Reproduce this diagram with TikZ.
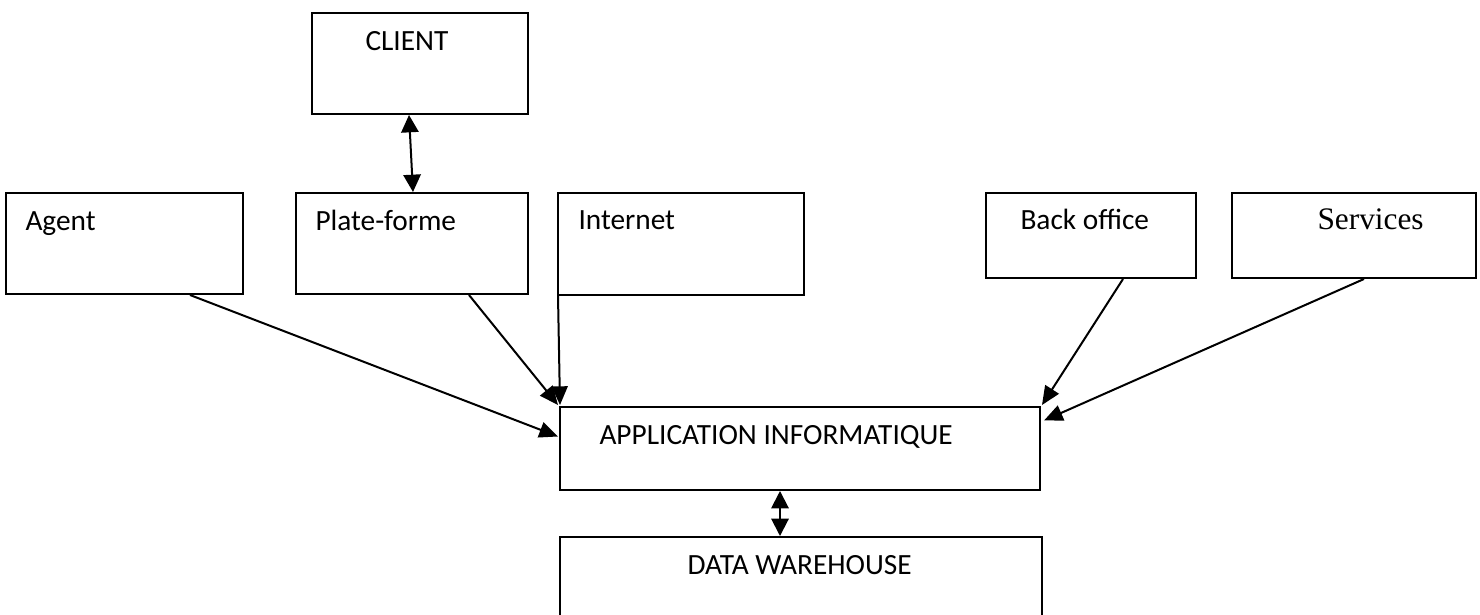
\documentclass[tikz,border=0pt]{standalone}
\usepackage{fontspec}
\setmainfont{Carlito}
\newfontfamily\timesfont{Liberation Serif}
\usetikzlibrary{arrows.meta,calc}

\tikzset{every picture/.style={line width=0.75pt}}
\tikzset{
  boxnode/.style={draw, line width=1.5, rectangle, inner sep=0pt, anchor=north west},
  boxtext/.style={anchor=base west, inner sep=0pt, font=\fontsize{22}{26}\selectfont},
  linkarrow/.style={line width=1.5, -{Triangle[length=14pt,width=12pt]}},
  biarrow/.style={line width=1.5, {Triangle[length=13pt,width=13pt]}-{Triangle[length=13pt,width=13pt]}}
}

\begin{document}
\begin{tikzpicture}[x=0.75pt,y=0.75pt,yscale=-1,xscale=1]
\useasboundingbox (0,0) rectangle (1480,614);
\clip (0,0) rectangle (1480,614);

%Shape: Rectangle [id:client]
\node [boxnode, minimum width=162pt, minimum height=75.75pt] (client) at (311,12) {};
%Shape: Rectangle [id:agent]
\node [boxnode, minimum width=177.75pt, minimum height=75.75pt] (agent) at (5,192) {};
%Shape: Rectangle [id:plate]
\node [boxnode, minimum width=174pt, minimum height=75.75pt] (plate) at (295,192) {};
%Shape: Rectangle [id:internet]
\node [boxnode, minimum width=184.5pt, minimum height=76.5pt] (internet) at (557,192) {};
%Shape: Rectangle [id:backoffice]
\node [boxnode, minimum width=157.5pt, minimum height=63.75pt] (backoffice) at (985,192) {};
%Shape: Rectangle [id:services]
\node [boxnode, minimum width=183pt, minimum height=63.75pt] (services) at (1231,192) {};
%Shape: Rectangle [id:appli]
\node [boxnode, minimum width=360pt, minimum height=62.25pt] (appli) at (559,406) {};
%Shape: Rectangle [id:dwh]
\node [boxnode, minimum width=361.5pt, minimum height=75pt] (dwh) at (559,536) {};

%Straight Lines [id:client-plate]
\draw [biarrow] ($(client.south)+(-11,0)$) -- ($(plate.north)+(1,0)$) ;
%Straight Lines [id:agent-appli]
\draw [linkarrow] ($(agent.south east)+(-54,0)$) -- ($(appli.west)+(-1,-12)$) ;
%Straight Lines [id:plate-appli]
\draw [linkarrow] ($(plate.south east)+(-60,0)$) -- ($(appli.north west)+(-1,-1)$) ;
%Straight Lines [id:internet-appli]
\draw [linkarrow] ($(internet.south west)+(1,0)$) -- ($(appli.north west)+(1,-1)$) ;
%Straight Lines [id:backoffice-appli]
\draw [linkarrow] ($(backoffice.south)+(32,0)$) -- ($(appli.north east)+(1,-1)$) ;
%Straight Lines [id:services-appli]
\draw [linkarrow] ($(services.south)+(10,0)$) -- ($(appli.east)+(3,-28)$) ;
%Straight Lines [id:appli-dwh]
\draw [biarrow] ($(appli.south)+(-20,0)$) -- ($(dwh.north)+(-21,0)$) ;

% Text Node
\node [boxtext] (tclient) at (365,50) {CLIENT};
% Text Node
\node [boxtext] (tagent) at (25,230) {Agent};
% Text Node
\node [boxtext] (tplate) at (315,230) {Plate-forme};
% Text Node
\node [boxtext] (tinternet) at (578,229) {Internet};
% Text Node
\node [boxtext] (tbackoffice) at (1020,229) {Back office};
% Text Node
\node [boxtext, font=\timesfont\fontsize{23.5}{28}\selectfont] (tservices) at (1317,229) {Services};
% Text Node
\node [boxtext] (tappli) at (599,444) {APPLICATION INFORMATIQUE};
% Text Node
\node [boxtext] (tdwh) at (687,574) {DATA WAREHOUSE};

\end{tikzpicture}
\end{document}
